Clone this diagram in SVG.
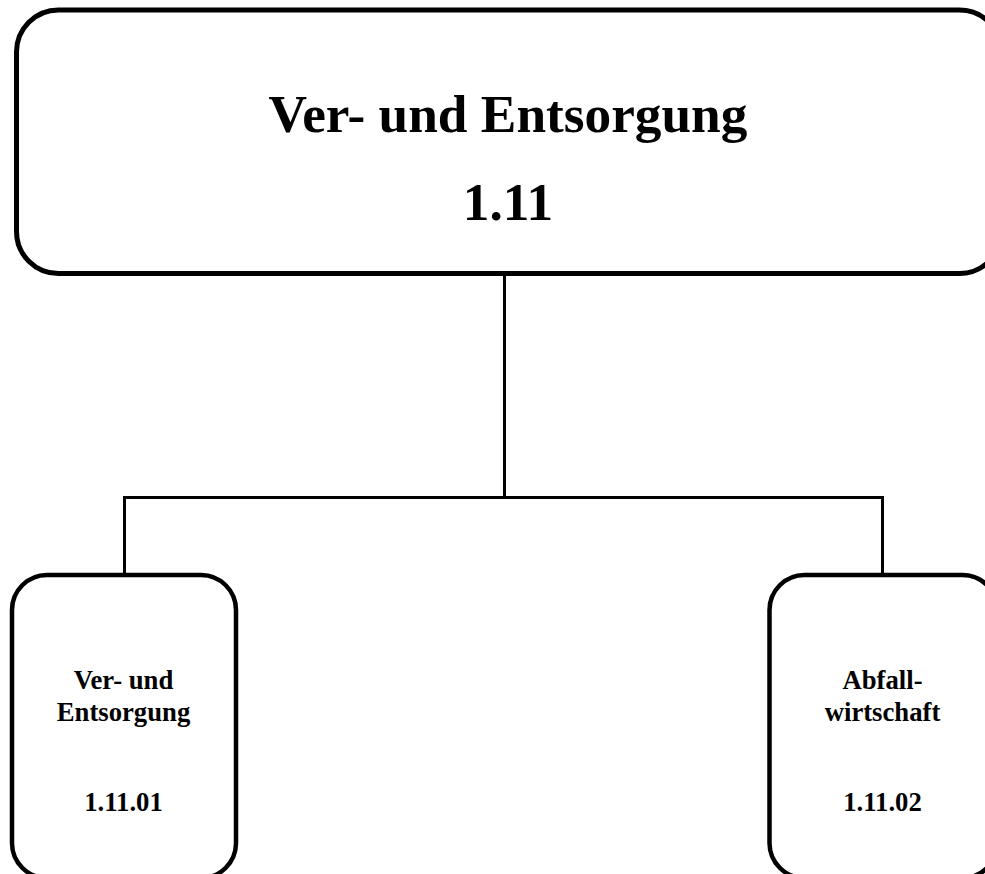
<svg xmlns="http://www.w3.org/2000/svg" width="985" height="874" viewBox="0 0 985 874">
<style>
.box{fill:#fff;stroke:#000}
.main{stroke-width:5}
.child{stroke-width:4.5}
.conn{stroke:#000;stroke-width:3;fill:none}
text{font-family:"Liberation Serif","Times New Roman",serif;font-weight:bold;fill:#000;text-anchor:middle}
.t1{font-size:53.3px}
.t2{font-size:26.7px}
</style>
<rect width="985" height="874" fill="#fff"/>
<g id="connectors">
<line class="conn" x1="504.5" y1="274" x2="504.5" y2="497.5"/>
<line class="conn" x1="123" y1="497.5" x2="884" y2="497.5"/>
<line class="conn" x1="124.5" y1="496" x2="124.5" y2="575"/>
<line class="conn" x1="882.5" y1="496" x2="882.5" y2="575"/>
</g>
<g id="node-1.11">
<rect class="box main" x="16.5" y="10" width="985" height="263.5" rx="42" ry="42"/>
<text class="t1" x="508" y="132">Ver- und Entsorgung</text>
<text class="t1" x="508" y="220">1.11</text>
</g>
<g id="node-1.11.01">
<rect class="box child" x="12" y="575" width="224" height="303" rx="35" ry="35"/>
<text class="t2" x="123.5" y="689">Ver- und</text>
<text class="t2" x="123.5" y="721">Entsorgung</text>
<text class="t2" x="123.5" y="811">1.11.01</text>
</g>
<g id="node-1.11.02">
<rect class="box child" x="769.5" y="575" width="228" height="303" rx="35" ry="35"/>
<text class="t2" x="882.5" y="689">Abfall-</text>
<text class="t2" x="882.5" y="721">wirtschaft</text>
<text class="t2" x="882.5" y="811">1.11.02</text>
</g>
</svg>
